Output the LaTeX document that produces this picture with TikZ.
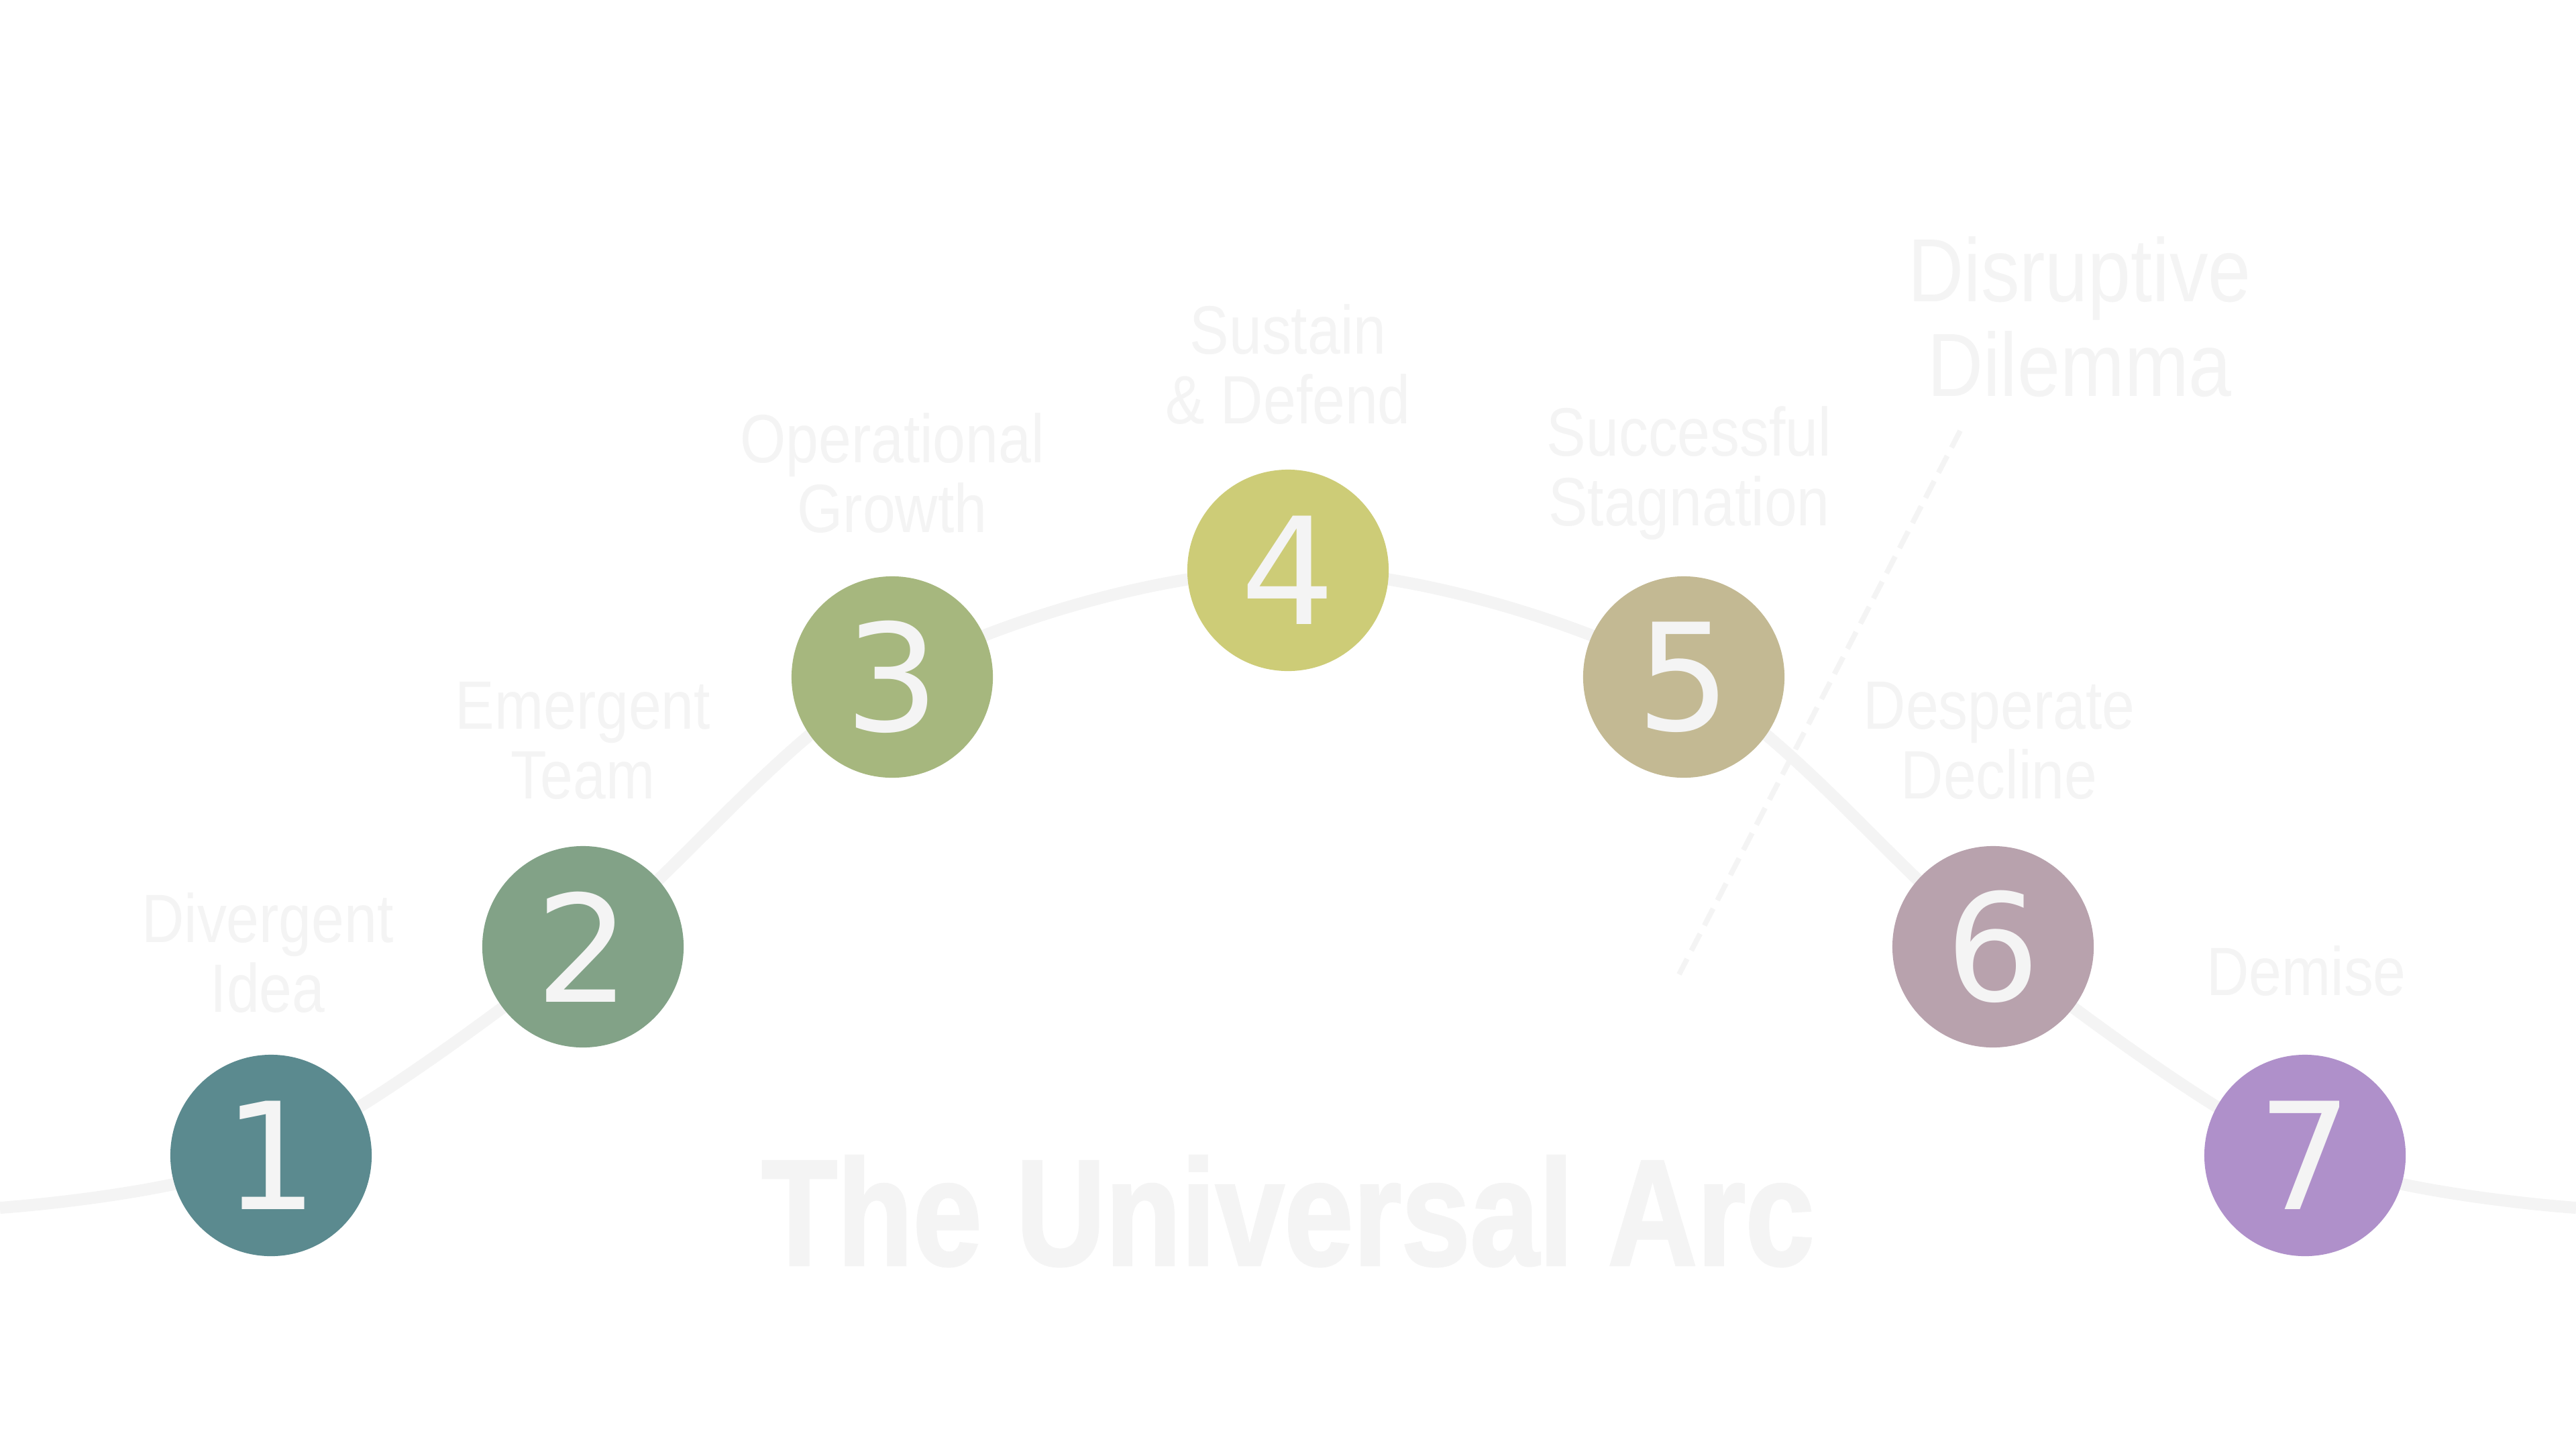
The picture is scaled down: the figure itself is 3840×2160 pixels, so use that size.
\documentclass[tikz,border=0pt]{standalone}
\usepackage{fontspec}
\setmainfont{Liberation Sans}
\newfontfamily\labelfont[FakeStretch=0.86]{Liberation Sans}
\newfontfamily\titlefont[FakeStretch=0.82,FakeBold=1.5]{Liberation Sans}
\newfontfamily\numfont{DejaVu Sans}
\definecolor{cone}{HTML}{5B8A8F}
\definecolor{ctwo}{HTML}{82A287}
\definecolor{cthree}{HTML}{A6B77E}
\definecolor{cfour}{HTML}{CDCC77}
\definecolor{cfive}{HTML}{C3B993}
\definecolor{csix}{HTML}{B8A2AD}
\definecolor{cseven}{HTML}{AF90CA}
\definecolor{pale}{HTML}{F4F4F4}
\tikzset{
  stage/.style={circle, minimum size=3cm, inner sep=0pt, text=pale,
    font=\numfont\fontsize{63}{63}\selectfont},
  lbl/.style={text=pale, align=center, inner sep=0pt,
    font=\labelfont\fontsize{29}{29.5}\selectfont},
  biglbl/.style={text=pale, align=center, inner sep=0pt,
    font=\labelfont\fontsize{38}{40}\selectfont},
  arcline/.style={draw=pale, line width=5.1pt},
  dashline/.style={draw=pale, line width=2.2pt, dash pattern=on 8pt off 4pt},
}
\pgfdeclarelayer{bg}
\pgfdeclarelayer{bgfill}
\pgfsetlayers{bgfill,bg,main}
\begin{document}
\begin{tikzpicture}[x=0.01cm, y=-0.01cm]
\begin{pgfonlayer}{bgfill}
\fill[white] (0,0) rectangle (3840,2160);
\end{pgfonlayer}
\useasboundingbox (0,0) rectangle (3840,2160);
% stage circles
\node[stage, fill=cone]   (n1) at (404,1722) {1};
\node[stage, fill=ctwo]   (n2) at (869,1411) {2};
\node[stage, fill=cthree] (n3) at (1330,1009) {3};
\node[stage, fill=cfour]  (n4) at (1920,850) {4};
\node[stage, fill=cfive]  (n5) at (2510,1009) {5};
\node[stage, fill=csix]   (n6) at (2971,1411) {6};
\node[stage, fill=cseven] (n7) at (3436,1722) {7};
\coordinate (L) at (0,1800);
\coordinate (R) at (3840,1800);
% arc behind circles
\begin{pgfonlayer}{bg}
\draw[arcline] plot[smooth, tension=0.55] coordinates {(L) (n1.center) (n2.center) (n3.center) (n4.center) (n5.center) (n6.center) (n7.center) (R)};
\end{pgfonlayer}
% dashed divider
\coordinate (D1) at (2922,642);
\coordinate (D2) at (2503,1452);
\draw[dashline] (D1) -- (D2);
% labels
\node[lbl] (t1) at (399,1420) {Divergent\\Idea};
\node[lbl] (t2) at (869,1104) {Emergent\\Team};
\node[lbl] (t3) at (1330,705) {Operational\\Growth};
\node[lbl] (t4) at (1920,543) {Sustain\\\&~Defend};
\node[lbl] (t5) at (2518,705) {Successful\\Stagnation};
\node[lbl] (t6) at (2980,1104) {Desperate\\Decline};
\node[lbl] (t7) at (3438,1447) {Demise};
\node[biglbl] (t8) at (3100,472) {Disruptive\\Dilemma};
% title
\node[text=pale, inner sep=0pt, font=\titlefont\bfseries\fontsize{64}{64}\selectfont] (title) at (1920,1805) {The Universal Arc};
\end{tikzpicture}
\end{document}
